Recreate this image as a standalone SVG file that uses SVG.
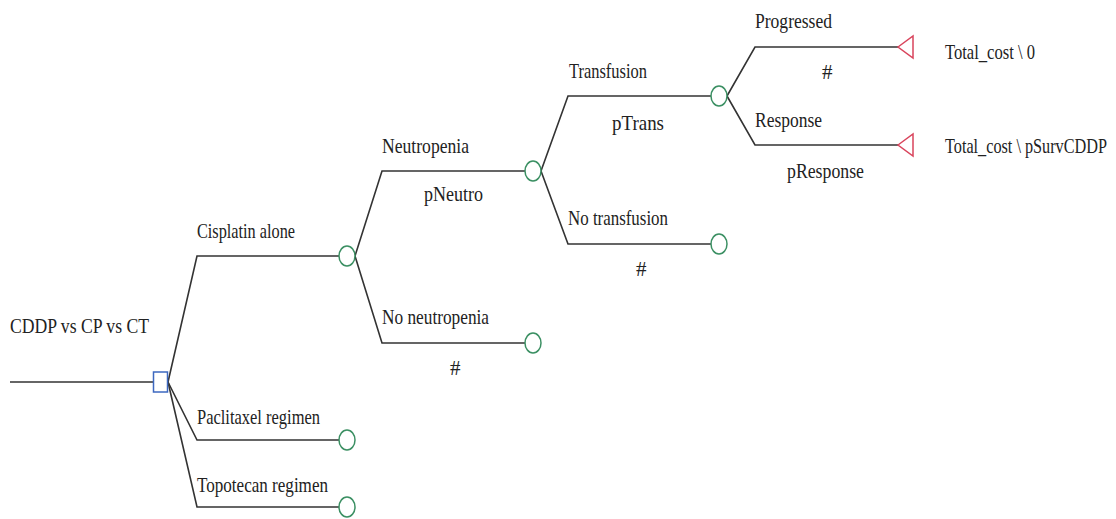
<svg xmlns="http://www.w3.org/2000/svg" width="1116" height="519" viewBox="0 0 1116 519">
<style>
.bg{fill:#ffffff}
.ln{fill:none;stroke:#333333;stroke-width:1.6}
.chance{fill:#ffffff;stroke:#3a8f62;stroke-width:1.5}
.dec{fill:#ffffff;stroke:#3d68c0;stroke-width:1.5}
.term{fill:#ffffff;stroke:#d9445c;stroke-width:1.5}
</style>
<rect class="bg" x="0" y="0" width="1116" height="519"/>
<g id="connectors">
<path class="ln" d="M10 382 H153"/>
<path class="ln" d="M168 382 L197 256 H339"/>
<path class="ln" d="M168 382 L197 440 H339"/>
<path class="ln" d="M168 382 L197 507 H339"/>
<path class="ln" d="M355 256 L382 171 H525"/>
<path class="ln" d="M355 256 L382 343 H525"/>
<path class="ln" d="M541 171 L568 96 H711"/>
<path class="ln" d="M541 171 L568 244 H711"/>
<path class="ln" d="M727 96 L755 47 H898"/>
<path class="ln" d="M727 96 L755 145 H898"/>
</g>
<g id="labels" font-family="Liberation Serif" font-size="21" fill="#222222">
<text x="10" y="333" textLength="139" lengthAdjust="spacingAndGlyphs">CDDP vs CP vs CT</text>
<text x="197" y="238" textLength="98" lengthAdjust="spacingAndGlyphs">Cisplatin alone</text>
<text x="197" y="424" textLength="123" lengthAdjust="spacingAndGlyphs">Paclitaxel regimen</text>
<text x="197" y="492" textLength="131" lengthAdjust="spacingAndGlyphs">Topotecan regimen</text>
<text x="382" y="153" textLength="87" lengthAdjust="spacingAndGlyphs">Neutropenia</text>
<text x="424" y="201" textLength="59" lengthAdjust="spacingAndGlyphs">pNeutro</text>
<text x="382" y="324" textLength="107" lengthAdjust="spacingAndGlyphs">No neutropenia</text>
<text x="450" y="375">#</text>
<text x="569" y="78" textLength="78" lengthAdjust="spacingAndGlyphs">Transfusion</text>
<text x="612" y="130" textLength="52" lengthAdjust="spacingAndGlyphs">pTrans</text>
<text x="568" y="225" textLength="100" lengthAdjust="spacingAndGlyphs">No transfusion</text>
<text x="636" y="276">#</text>
<text x="755" y="28" textLength="77" lengthAdjust="spacingAndGlyphs">Progressed</text>
<text x="822" y="79">#</text>
<text x="755" y="127" textLength="67" lengthAdjust="spacingAndGlyphs">Response</text>
<text x="787" y="178" textLength="77" lengthAdjust="spacingAndGlyphs">pResponse</text>
</g>
<g id="decision-root">
<rect class="dec" x="153.5" y="372" width="14" height="20"/>
</g>
<g id="chance-cisplatin"><ellipse class="chance" cx="347" cy="256" rx="8" ry="10"/></g>
<g id="chance-paclitaxel"><ellipse class="chance" cx="347" cy="440" rx="8" ry="10"/></g>
<g id="chance-topotecan"><ellipse class="chance" cx="347" cy="507" rx="8" ry="10"/></g>
<g id="chance-neutropenia"><ellipse class="chance" cx="533" cy="171" rx="8" ry="10"/></g>
<g id="chance-no-neutropenia"><ellipse class="chance" cx="533" cy="343" rx="8" ry="10"/></g>
<g id="chance-transfusion"><ellipse class="chance" cx="719" cy="96" rx="8" ry="10"/></g>
<g id="chance-no-transfusion"><ellipse class="chance" cx="719" cy="244" rx="8" ry="10"/></g>
<g id="terminal-progressed" font-family="Liberation Serif" font-size="21" fill="#222222">
<polygon class="term" points="898,47 913,36 913,58"/>
<text x="945" y="59" textLength="90" lengthAdjust="spacingAndGlyphs">Total_cost \ 0</text>
</g>
<g id="terminal-response" font-family="Liberation Serif" font-size="21" fill="#222222">
<polygon class="term" points="898,145 913,134 913,156"/>
<text x="945" y="153" textLength="162" lengthAdjust="spacingAndGlyphs">Total_cost \ pSurvCDDP</text>
</g>
</svg>
